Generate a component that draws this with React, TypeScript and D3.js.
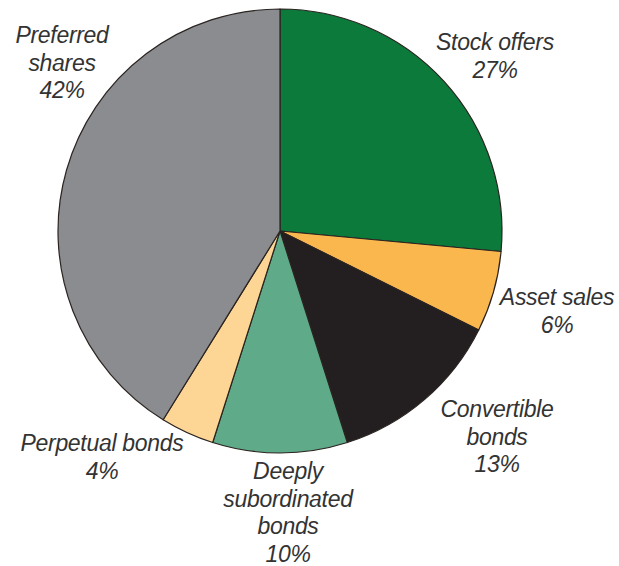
import React from "react";
import * as d3 from "d3";

const categories = ["Stock offers", "Asset sales", "Convertible bonds", "Deeply subordinated bonds", "Perpetual bonds", "Preferred shares"];
const values = [27, 6, 13, 10, 4, 42];
const colors = ["#0b7a3b", "#f9b74e", "#231f20", "#5faa88", "#fdd594", "#8b8c8f"];
const labelLines = [
  ["Stock offers", "27%"],
  ["Asset sales", "6%"],
  ["Convertible", "bonds", "13%"],
  ["Deeply", "subordinated", "bonds", "10%"],
  ["Perpetual bonds", "4%"],
  ["Preferred", "shares", "42%"],
];
// label anchor (center x, first baseline y)
const labelPos = [
  [495, 50],
  [557, 305],
  [497, 417],
  [288, 479],
  [102, 451],
  [62, 43],
];

export default function App() {
  const W = 619, H = 566;
  const cx = 280, cy = 231, r = 222;
  const pie = d3.pie<number>().sort(null).value((d) => d);
  const arcs = pie(values);
  const arc = d3.arc<d3.PieArcDatum<number>>().innerRadius(0).outerRadius(r);
  const lh = 27.5;
  return (
    <svg width={W} height={H} style={{ position: "absolute", left: 0, top: 0, background: "#fff" }}>
      <g transform={`translate(${cx},${cy})`}>
        {arcs.map((a, i) => (
          <path key={categories[i]} d={arc(a) || ""} fill={colors[i]} stroke="#2a2320" strokeWidth={1.2} strokeLinejoin="round" />
        ))}
      </g>
      {labelLines.map((lines, i) => (
        <text key={i} textAnchor="middle" fontFamily="'Liberation Sans', Arial, sans-serif" fontStyle="italic" fontSize={23} fill="#333" letterSpacing={-0.3}>
          {lines.map((l, j) => (
            <tspan key={j} x={labelPos[i][0]} y={labelPos[i][1] + j * lh}>{l}</tspan>
          ))}
        </text>
      ))}
    </svg>
  );
}
